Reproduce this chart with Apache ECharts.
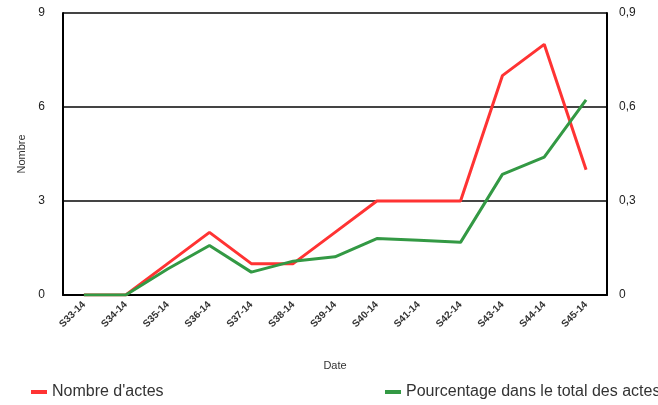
<!DOCTYPE html>
<html>
<head>
<meta charset="utf-8">
<script src="https://cdn.jsdelivr.net/npm/echarts@6/dist/echarts.min.js"></script>
<style>
  html, body { margin: 0; padding: 0; background: #fff; }
  #chart { width: 658px; height: 405px; }
</style>
</head>
<body>
<div id="chart"></div>
<script>
var weeks = ['S33-14', 'S34-14', 'S35-14', 'S36-14', 'S37-14', 'S38-14', 'S39-14',
             'S40-14', 'S41-14', 'S42-14', 'S43-14', 'S44-14', 'S45-14'];
var nbActes = [0, 0, 1, 2, 1, 1, 2, 3, 3, 3, 7, 8, 4];
var pctTotal = [0, 0, 0.083, 0.158, 0.073, 0.108, 0.122, 0.18, 0.175, 0.168, 0.385, 0.44, 0.623];

var chart = echarts.init(document.getElementById('chart'));
var font = 'Liberation Sans, Arial, sans-serif';

var option = {
    animation: false,
    textStyle: { fontFamily: font },
    grid: { left: 63, right: 51, top: 13, bottom: 110, show: true, borderColor: '#000', borderWidth: 1 },
    legend: [
        {
            left: 26, top: 379,
            icon: 'rect', itemWidth: 16, itemHeight: 4,
            textStyle: { fontSize: 16, color: '#333', fontFamily: font },
            data: ["Nombre d'actes"]
        },
        {
            left: 380, top: 379,
            icon: 'rect', itemWidth: 16, itemHeight: 4,
            textStyle: { fontSize: 16, color: '#333', fontFamily: font },
            data: ['Pourcentage dans le total des actes']
        }
    ],
    xAxis: {
        type: 'category',
        data: weeks,
        boundaryGap: true,
        name: 'Date',
        nameLocation: 'middle',
        nameGap: 65,
        nameTextStyle: { fontSize: 11, color: '#333' },
        axisLine: { lineStyle: { color: '#000', width: 2 } },
        axisTick: { alignWithLabel: true, length: 5, lineStyle: { color: '#000', width: 2 } },
        axisLabel: { rotate: 45, fontSize: 10, fontWeight: 'bold', color: '#333', margin: 8 }
    },
    yAxis: [
        {
            type: 'value', min: 0, max: 9, interval: 3,
            name: 'Nombre',
            nameLocation: 'middle',
            nameGap: 36,
            nameTextStyle: { fontSize: 11, color: '#333' },
            axisLine: { show: true, lineStyle: { color: '#000', width: 2 } },
            axisTick: { show: false },
            axisLabel: { fontSize: 12, color: '#222', margin: 18 },
            splitLine: { lineStyle: { color: '#444', width: 2 } }
        },
        {
            type: 'value', min: 0, max: 0.9, interval: 0.3,
            axisLine: { show: true, lineStyle: { color: '#000', width: 2 } },
            axisTick: { show: false },
            axisLabel: {
                fontSize: 12, color: '#222', margin: 12,
                formatter: function (v) { return v === 0 ? '0' : v.toFixed(1).replace('.', ','); }
            },
            splitLine: { show: false }
        }
    ],
    series: [
        {
            name: "Nombre d'actes",
            type: 'line',
            yAxisIndex: 0,
            data: nbActes,
            showSymbol: false,
            color: '#ff3333',
            lineStyle: { width: 3, color: '#ff3333' }
        },
        {
            name: 'Pourcentage dans le total des actes',
            type: 'line',
            yAxisIndex: 1,
            data: pctTotal,
            showSymbol: false,
            color: '#339944',
            lineStyle: { width: 3, color: '#339944' }
        }
    ]
};

chart.setOption(option);
</script>
</body>
</html>
